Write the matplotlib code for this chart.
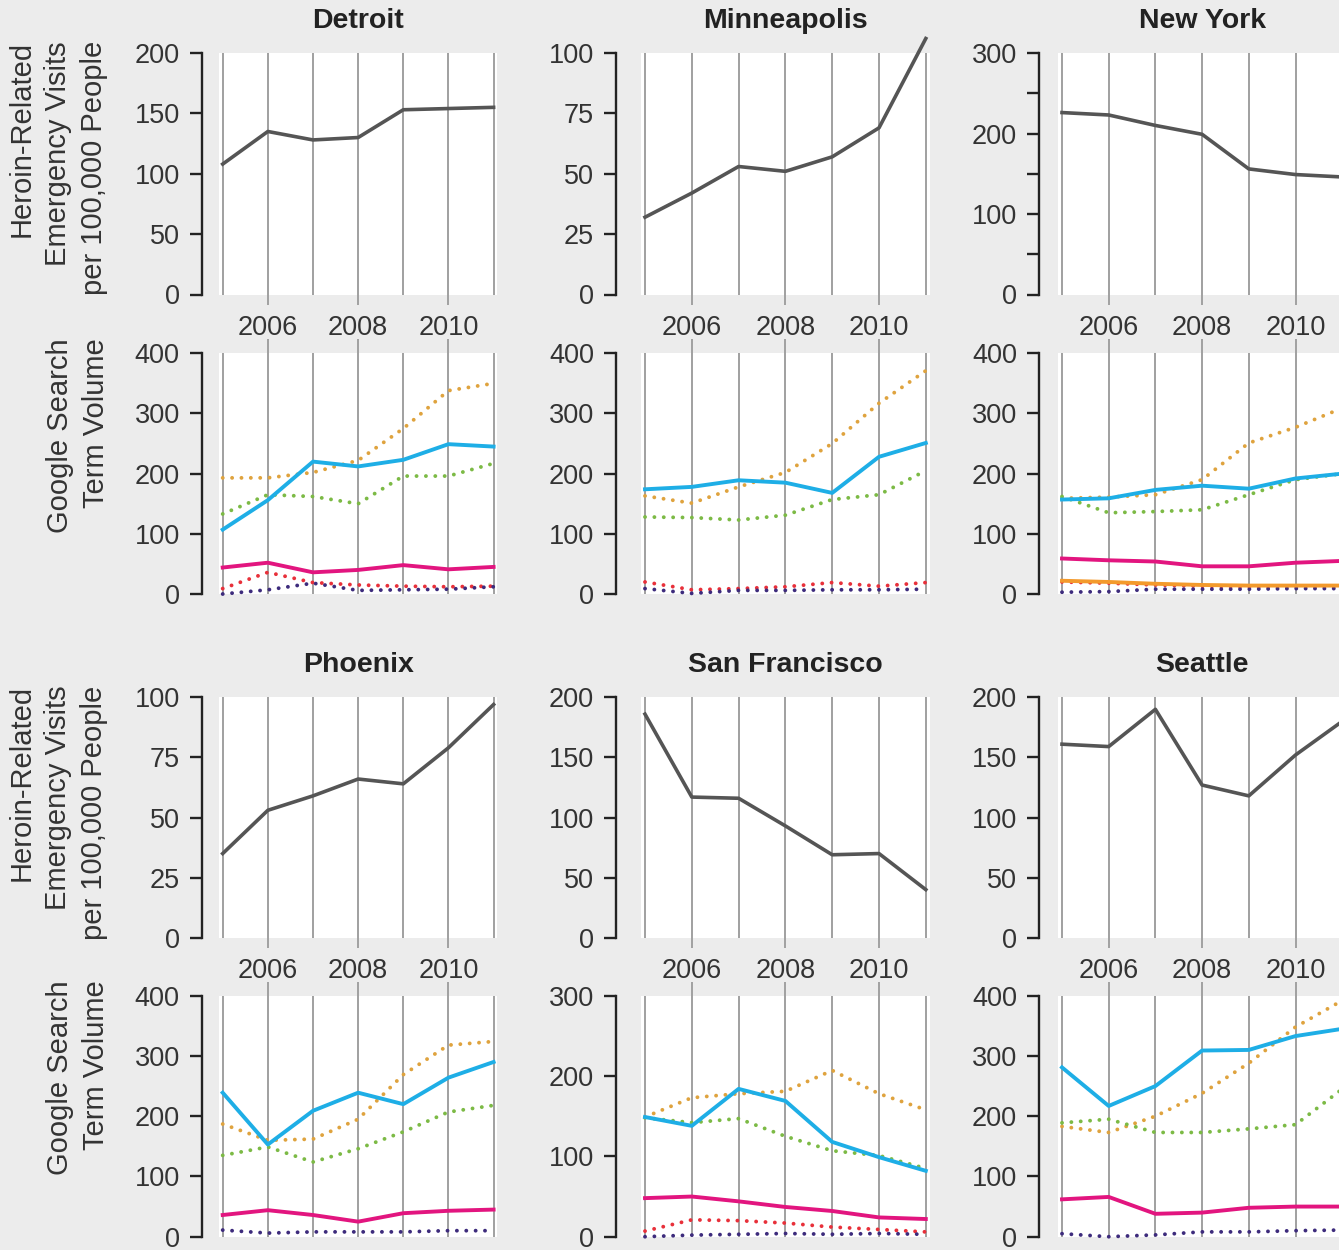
import matplotlib
matplotlib.use('Agg')
import matplotlib.pyplot as plt

plt.rcParams['font.family'] = ['Liberation Sans', 'DejaVu Sans']

years = [2005, 2006, 2007, 2008, 2009, 2010, 2011]
cities = ['Detroit', 'Minneapolis', 'New York', 'Phoenix', 'San Francisco', 'Seattle']

# heroin-related emergency visits per 100,000 people
er_detroit = [108, 135, 128, 130, 153, 154, 155]
er_minneapolis = [32, 42, 53, 51, 57, 69, 106]
er_newyork = [226, 223, 210, 199, 156, 149, 146]
er_phoenix = [35, 53, 59, 66, 64, 79, 97]
er_sanfrancisco = [186, 117, 116, 93, 69, 70, 40]
er_seattle = [161, 159, 190, 127, 118, 152, 180]

# google search term volume, one list per term
blue_detroit = [107, 156, 220, 212, 223, 249, 245]
pink_detroit = [44, 52, 36, 40, 48, 41, 45]
orange_detroit = [193, 193, 202, 222, 275, 338, 350]
green_detroit = [133, 165, 162, 150, 196, 196, 217]
red_detroit = [9, 36, 19, 15, 13, 12, 13]
purple_detroit = [0, 7, 18, 6, 7, 8, 12]

blue_minneapolis = [174, 178, 189, 185, 168, 228, 251]
orange_minneapolis = [163, 151, 178, 202, 250, 317, 371]
green_minneapolis = [128, 127, 123, 131, 157, 165, 205]
red_minneapolis = [20, 7, 9, 12, 19, 13, 19]
purple_minneapolis = [9, 1, 6, 6, 7, 7, 8]

blue_newyork = [157, 159, 173, 180, 175, 192, 200]
pink_newyork = [59, 56, 54, 46, 46, 52, 55]
orange_newyork = [159, 161, 165, 190, 251, 277, 309]
green_newyork = [162, 135, 137, 140, 165, 190, 200]
red_newyork = [20, 18, 15, 13, 12, 12, 12]
purple_newyork = [3, 4, 8, 8, 8, 9, 9]
amber_newyork = [22, 20, 17, 15, 14, 14, 14]

blue_phoenix = [239, 153, 209, 239, 220, 264, 290]
pink_phoenix = [36, 44, 36, 25, 39, 43, 45]
orange_phoenix = [187, 160, 162, 195, 269, 318, 324]
green_phoenix = [135, 149, 124, 146, 174, 207, 218]
purple_phoenix = [11, 6, 8, 8, 8, 10, 10]

blue_sanfrancisco = [149, 138, 184, 169, 118, 99, 82]
pink_sanfrancisco = [48, 50, 44, 37, 32, 24, 22]
orange_sanfrancisco = [149, 173, 178, 181, 207, 178, 158]
green_sanfrancisco = [148, 142, 147, 125, 107, 101, 85]
red_sanfrancisco = [7, 21, 20, 17, 12, 9, 6]
purple_sanfrancisco = [0, 2, 3, 4, 3, 4, 3]

blue_seattle = [281, 217, 250, 309, 310, 333, 345]
pink_seattle = [62, 66, 38, 40, 48, 50, 50]
orange_seattle = [183, 173, 200, 238, 288, 348, 392]
green_seattle = [189, 195, 173, 173, 179, 186, 245]
purple_seattle = [5, 0, 3, 8, 8, 10, 11]

er_data = [er_detroit, er_minneapolis, er_newyork, er_phoenix, er_sanfrancisco, er_seattle]
er_ymax = [200, 100, 300, 100, 200, 200]
er_step = [50, 25, 50, 25, 50, 50]
er_label_step = [50, 25, 100, 25, 50, 50]
search_ymax = [400, 400, 400, 400, 300, 400]

search_data = [
    {'orange': orange_detroit, 'green': green_detroit, 'red': red_detroit,
     'purple': purple_detroit, 'pink': pink_detroit, 'blue': blue_detroit},
    {'orange': orange_minneapolis, 'green': green_minneapolis, 'red': red_minneapolis,
     'purple': purple_minneapolis, 'blue': blue_minneapolis},
    {'orange': orange_newyork, 'green': green_newyork, 'red': red_newyork,
     'purple': purple_newyork, 'amber': amber_newyork, 'pink': pink_newyork,
     'blue': blue_newyork},
    {'orange': orange_phoenix, 'green': green_phoenix, 'purple': purple_phoenix,
     'pink': pink_phoenix, 'blue': blue_phoenix},
    {'orange': orange_sanfrancisco, 'green': green_sanfrancisco, 'red': red_sanfrancisco,
     'purple': purple_sanfrancisco, 'pink': pink_sanfrancisco, 'blue': blue_sanfrancisco},
    {'orange': orange_seattle, 'green': green_seattle, 'purple': purple_seattle,
     'pink': pink_seattle, 'blue': blue_seattle},
]

dots = (0, (0.01, 2.4))
styles = {
    'orange': dict(color='#dfa33e', ls=dots, lw=2.8),
    'green': dict(color='#7cba45', ls=dots, lw=2.8),
    'red': dict(color='#e8303a', ls=dots, lw=2.8),
    'purple': dict(color='#3d2b7c', ls=dots, lw=2.8),
    'amber': dict(color='#f39a2c', ls='-', lw=2.8),
    'pink': dict(color='#e2157f', ls='-', lw=2.8),
    'blue': dict(color='#1eaee6', ls='-', lw=2.8),
}

W, H = 1339, 1250
fig = plt.figure(figsize=(W / 100, H / 100), dpi=100, facecolor='#ececec')

col_x0 = [222.7, 645, 1062]     # pixel x of 2005
col_dx = [45.15, 46.8, 46.7]    # pixels per year
spine_gap = [17, 25, 19]
rows = [(53, 294.5, 353.3, 594), (697.3, 937.7, 995.7, 1236.7)]
grid_col = '#a0a0a0'
text_col = '#333333'


def add_ax(ci, top, bot):
    left = col_x0[ci] - 0.08 * col_dx[ci]
    w = 6.16 * col_dx[ci]
    return fig.add_axes([left / W, 1 - bot / H, w / W, (bot - top) / H])


def style(ax, ci, ymax, ystep, lstep, er):
    ax.set_facecolor('white')
    ax.set_xlim(2004.92, 2011.08)
    ax.set_ylim(0, ymax)
    for s in ['top', 'right', 'bottom']:
        ax.spines[s].set_visible(False)
    ax.spines['left'].set_position(('outward', spine_gap[ci] * 0.72))
    ax.spines['left'].set_linewidth(1.7)
    ax.spines['left'].set_color('#222222')
    ticks = list(range(0, ymax + 1, ystep))
    ax.set_yticks(ticks)
    ax.set_yticklabels([str(t) if t % lstep == 0 else '' for t in ticks])
    ax.tick_params(axis='y', length=9, width=1.7, color='#222222', pad=7,
                   labelsize=19.5, labelcolor=text_col)
    ax.set_xticks([2006, 2008, 2010])
    ax.set_xticks([2005, 2007, 2009, 2011], minor=True)
    ax.grid(axis='x', which='both', color=grid_col, lw=1.4)
    ax.tick_params(axis='x', which='minor', length=0)
    if er:
        ax.tick_params(axis='x', which='major', length=7.5, width=1.4, color=grid_col,
                       pad=7, labelsize=19.5, labelcolor=text_col)
    else:
        ax.tick_params(axis='x', which='major', bottom=False, top=True,
                       labelbottom=False, labeltop=False, length=10, width=1.4,
                       color=grid_col)
    ax.set_axisbelow(True)


for i, city in enumerate(cities):
    r, ci = divmod(i, 3)
    t1, b1, t2, b2 = rows[r]

    ax = add_ax(ci, t1, b1)
    style(ax, ci, er_ymax[i], er_step[i], er_label_step[i], True)
    ax.plot(years, er_data[i], color='#555555', lw=2.6, clip_on=False,
            solid_joinstyle='round')
    ax.set_title(city, fontsize=20.5, fontweight='bold', pad=18, color='#222222')

    ax2 = add_ax(ci, t2, b2)
    style(ax2, ci, search_ymax[i], 100, 100, False)
    for key, vals in search_data[i].items():
        st = styles[key]
        ax2.plot(years, vals, color=st['color'], linestyle=st['ls'], lw=st['lw'],
                 dash_capstyle='round', solid_joinstyle='round', clip_on=False)

    if ci == 0:
        fig.text(58 / W, 1 - (t1 - 12) / H,
                 'Heroin-Related\nEmergency Visits\nper 100,000 People',
                 rotation=90, va='top', ha='center', multialignment='right',
                 fontsize=21, linespacing=1.38, color=text_col)
        fig.text(78 / W, 1 - (t2 - 15) / H, 'Google Search\nTerm Volume',
                 rotation=90, va='top', ha='center', multialignment='right',
                 fontsize=21, linespacing=1.38, color=text_col)

fig.savefig('out.png', dpi=100, facecolor=fig.get_facecolor())
